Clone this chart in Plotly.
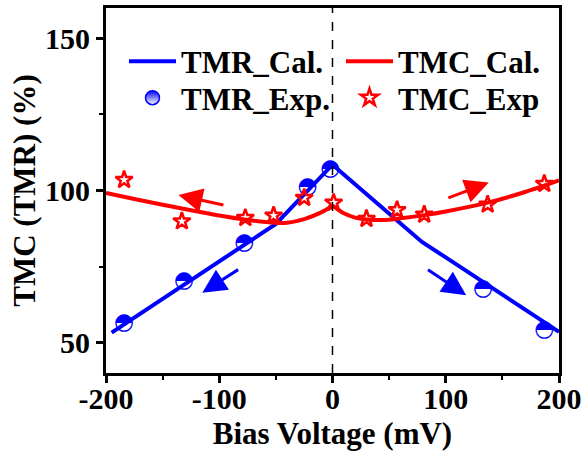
import plotly.graph_objects as go

# ---- data ----
tmr_cal_x = [-195, -50, 0, 79, 100, 200]
tmr_cal_y = [53.3, 89.0, 108.5, 83.1, 78.0, 53.5]

tmc_cal_left_x = [-200, -175, -150, -133, -100, -78, -51, -40, -25, -10, 0]
tmc_cal_left_y = [99.2, 97.2, 95.3, 94.1, 91.8, 90.5, 89.4, 89.4, 90.6, 92.8, 95.0]
tmc_cal_right_x = [0, 10, 20, 30, 45, 57, 81, 100, 137, 170, 200]
tmc_cal_right_y = [95.0, 92.5, 91.1, 90.5, 90.3, 90.7, 91.9, 93.1, 96.0, 99.5, 103.3]

tmr_exp_x = [-184, -131, -78, -22, -2, 133, 187]
tmr_exp_y = [56.2, 70.3, 82.5, 101.2, 106.9, 67.7, 54.2]

tmc_exp_x = [-184, -133, -77, -52, -25, 1, 30, 57, 81, 137, 187]
tmc_exp_y = [103.5, 89.9, 91.0, 91.8, 97.6, 96.0, 90.7, 93.6, 92.1, 95.4, 102.2]

x_ticks = [-200, -100, 0, 100, 200]
y_ticks = [50, 100, 150]

# arrows: (tail_x, tail_y, head_x, head_y, color)
arrows = [
    (-95, 95.1, -136, 98.5, "red"),
    (-82, 74.3, -115, 66.4, "blue"),
    (101, 97.4, 138, 102.6, "red"),
    (83, 74.3, 118, 65.6, "blue"),
]

FONT = "Liberation Serif"
BLUE = "#0000FF"
RED = "#FF0000"

fig = go.Figure()

fig.add_trace(go.Scatter(x=tmr_cal_x, y=tmr_cal_y, mode="lines", name="TMR_Cal.",
                         line=dict(color=BLUE, width=4), legend="legend"))
fig.add_trace(go.Scatter(x=tmc_cal_left_x, y=tmc_cal_left_y, mode="lines", name="TMC_Cal.",
                         line=dict(color=RED, width=4, shape="spline", smoothing=0.8),
                         legend="legend2", legendgroup="tmc"))
fig.add_trace(go.Scatter(x=tmc_cal_right_x, y=tmc_cal_right_y, mode="lines", name="TMC_Cal.",
                         line=dict(color=RED, width=4, shape="spline", smoothing=0.8),
                         legend="legend2", legendgroup="tmc", showlegend=False))

# half-filled circles drawn as glyphs
fig.add_trace(go.Scatter(x=tmr_exp_x, y=tmr_exp_y, mode="text", text=["\u25D3"] * len(tmr_exp_x),
                         textposition="middle center",
                         textfont=dict(family="DejaVu Sans", size=23, color=BLUE),
                         name="TMR_Exp.", showlegend=False))
# legend entry for TMR_Exp.
fig.add_trace(go.Scatter(x=[None], y=[None], mode="markers", name="TMR_Exp.",
                         marker=dict(symbol="circle", size=14, color=BLUE,
                                     gradient=dict(type="vertical", color="white"),
                                     line=dict(color=BLUE, width=1.5)),
                         legend="legend3"))

fig.add_trace(go.Scatter(x=tmc_exp_x, y=tmc_exp_y, mode="markers", name="TMC_Exp",
                         marker=dict(symbol="star-open", size=13, color=RED,
                                     line=dict(color=RED, width=2.5)),
                         legend="legend4"))

# dashed zero line
fig.add_shape(type="line", xref="x", yref="paper", x0=0, x1=0, y0=0, y1=1,
              line=dict(color="black", width=1.5, dash="dash"))

for tx, ty, hx, hy, c in arrows:
    fig.add_annotation(x=hx, y=hy, ax=tx, ay=ty, xref="x", yref="y", axref="x", ayref="y",
                       text="", showarrow=True, arrowhead=2, arrowsize=1.6, arrowwidth=3,
                       arrowcolor=c)

axis_common = dict(showline=True, linewidth=3, linecolor="black", mirror=True,
                   ticks="outside", ticklen=7, tickwidth=2.5, tickcolor="black",
                   showgrid=False, zeroline=False,
                   tickfont=dict(family=FONT, size=30, color="black", weight="bold"))

fig.update_xaxes(range=[-200, 200], tickvals=x_ticks, ticktext=[str(v) for v in x_ticks],
                 ticklabelstandoff=-10,
                 minor=dict(ticks="outside", ticklen=4, tickwidth=2, dtick=50, tick0=0, tickcolor="black"),
                 title=dict(text="Bias Voltage (mV)", standoff=9,
                            font=dict(family=FONT, size=31, color="black", weight="bold")),
                 **axis_common)
fig.update_yaxes(range=[40, 160], tickvals=y_ticks, ticktext=[str(v) for v in y_ticks],
                 minor=dict(ticks="outside", ticklen=4, tickwidth=2, dtick=25, tick0=0, tickcolor="black"),
                 title=dict(text="TMC (TMR) (%)", standoff=1,
                            font=dict(family=FONT, size=31, color="black", weight="bold")),
                 **axis_common)

legend_font = dict(family=FONT, size=31, color="black", weight="bold")
row1 = 1 - (61.7 - 8) / 365
row2 = 1 - (98 - 8) / 365
col1 = (124 - 106) / 453
col2 = (341 - 106) / 453
leg = dict(xanchor="left", yanchor="middle", bgcolor="rgba(0,0,0,0)",
           font=legend_font, itemwidth=47, tracegroupgap=0)
fig.update_layout(
    width=582, height=452,
    font=dict(family=FONT),
    margin=dict(l=106, r=23, t=8, b=79, autoexpand=False),
    plot_bgcolor="white", paper_bgcolor="white",
    legend=dict(x=col1, y=row1, **leg),
    legend2=dict(x=col2, y=row1, **leg),
    legend3=dict(x=col1, y=row2, **leg),
    legend4=dict(x=col2, y=row2, **leg),
)

fig.write_html("out.html")
